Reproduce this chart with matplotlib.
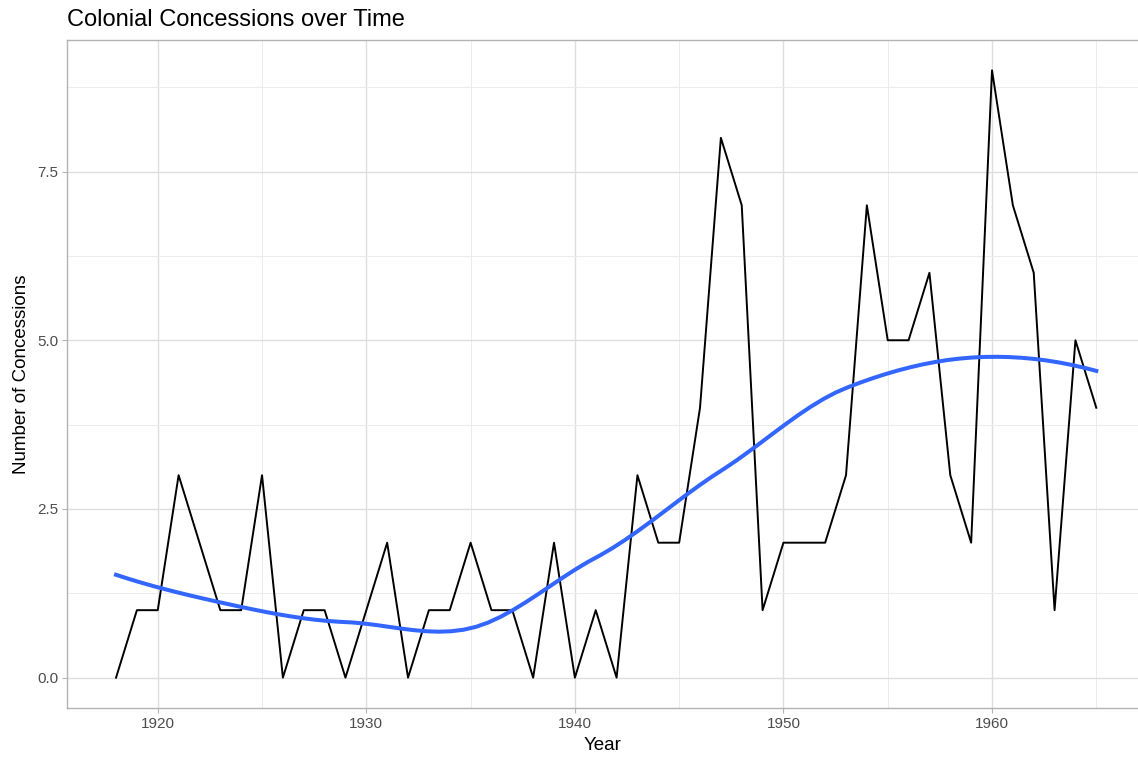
import numpy as np
import matplotlib
matplotlib.use('Agg')
import matplotlib.pyplot as plt
from matplotlib.ticker import MultipleLocator

plt.rcParams['font.family'] = ['Liberation Sans', 'DejaVu Sans']

years = list(range(1918, 1966))
concessions = [0, 1, 1, 3, 2, 1, 1, 3, 0, 1,
               1, 0, 1, 2, 0, 1, 1, 2, 1, 1,
               0, 2, 0, 1, 0, 3, 2, 2, 4, 8,
               7, 1, 2, 2, 2, 3, 7, 5, 5, 6,
               3, 2, 9, 7, 6, 1, 5, 4]

x_ticks = [1920, 1930, 1940, 1950, 1960]
y_ticks = [0.0, 2.5, 5.0, 7.5]


def local_fit(x, y, x0, q):
    # local quadratic fit with tricube weights -> value and slope at x0
    d = np.abs(x - x0)
    h = np.sort(d)[q - 1]
    w = np.clip(1 - (d / h) ** 3, 0, None) ** 3
    X = np.column_stack([np.ones_like(x), x - x0, (x - x0) ** 2])
    W = np.sqrt(w)
    beta = np.linalg.lstsq(X * W[:, None], y * W, rcond=None)[0]
    return beta[0], beta[1]


def loess(x, y, xs, span=0.75, cell=0.2):
    # rough copy of R's loess: kd-tree vertices + cubic hermite in between
    x = np.asarray(x, float)
    y = np.asarray(y, float)
    n = len(x)
    q = int(np.floor(n * span))
    fc = int(np.floor(n * span * cell))
    xsorted = np.sort(x)
    verts = set()

    def split(l, u):
        if u - l + 1 <= fc:
            return
        m = (l + u) // 2
        verts.add(xsorted[m - 1])
        split(l, m)
        split(m + 1, u)

    split(1, n)
    mu = 0.005 * (x.max() - x.min())
    verts = np.array(sorted(verts | {x.min() - mu, x.max() + mu}))
    vals = [local_fit(x, y, v, q) for v in verts]
    out = []
    for x0 in xs:
        i = min(np.searchsorted(verts, x0, side='right') - 1, len(verts) - 2)
        a, b = verts[i], verts[i + 1]
        (f0, d0), (f1, d1) = vals[i], vals[i + 1]
        hh = b - a
        t = (x0 - a) / hh
        h00 = 2 * t**3 - 3 * t**2 + 1
        h10 = t**3 - 2 * t**2 + t
        h01 = -2 * t**3 + 3 * t**2
        h11 = t**3 - t**2
        out.append(h00 * f0 + h10 * hh * d0 + h01 * f1 + h11 * hh * d1)
    return np.array(out)


xs = np.linspace(min(years), max(years), 80)
smooth = loess(years, concessions, xs)

fig = plt.figure(figsize=(11.38, 7.57), dpi=100)
ax = fig.add_axes([0.0589, 0.0647, 0.9411, 0.8825])

ax.plot(years, concessions, color='black', linewidth=1.4, zorder=3)
ax.plot(xs, smooth, color='#3366FF', linewidth=2.9, zorder=4)

ax.set_xlim(1915.65, 1967.0)
ax.set_ylim(-0.45, 9.45)
ax.set_xticks(x_ticks)
ax.set_yticks(y_ticks)
ax.set_yticklabels([f'{v:.1f}' for v in y_ticks])
ax.xaxis.set_minor_locator(MultipleLocator(5))
ax.yaxis.set_minor_locator(MultipleLocator(1.25))

ax.grid(which='major', color='#dedede', linewidth=1.0, zorder=0)
ax.grid(which='minor', color='#ececec', linewidth=0.7, zorder=0)
ax.set_axisbelow(True)

for side in ['left', 'bottom', 'top']:
    ax.spines[side].set_color('#b3b3b3')
    ax.spines[side].set_linewidth(1.0)
ax.spines['right'].set_visible(False)

ax.tick_params(which='major', length=3.5, width=0.8, color='#b3b3b3',
               labelcolor='#4d4d4d', labelsize=11, pad=3)
ax.tick_params(which='minor', length=0)

ax.set_xlabel('Year', fontsize=13.5, color='black', labelpad=4)
ax.set_ylabel('Number of Concessions', fontsize=13.5, color='black', labelpad=5)
ax.set_title('Colonial Concessions over Time', fontsize=17, loc='left',
             pad=10)

fig.savefig('out.png', dpi=100)
